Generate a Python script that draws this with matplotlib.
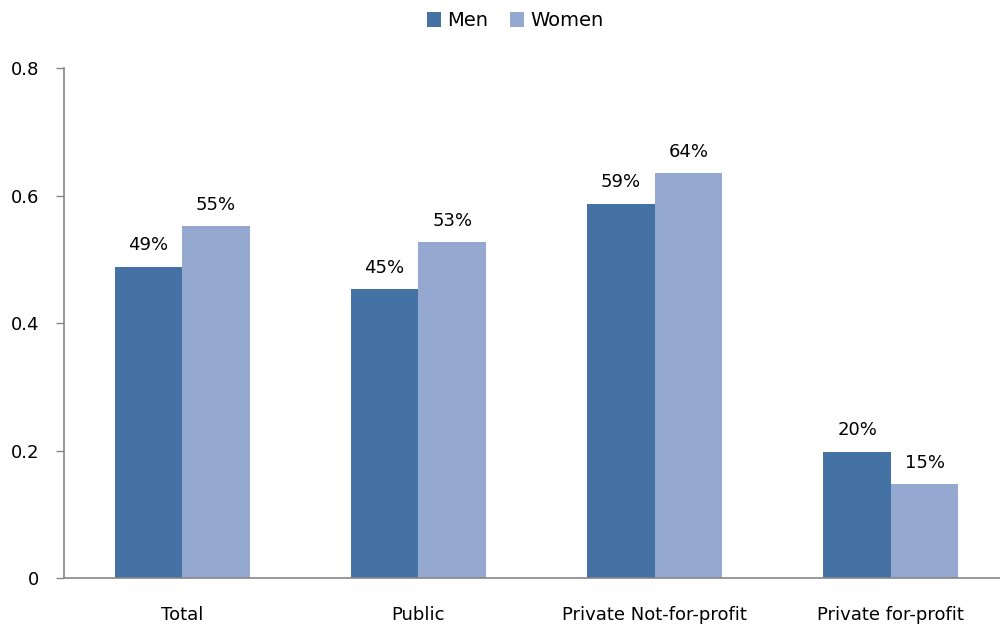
import numpy as np
import matplotlib.pyplot as plt

# share by sector
categories = ['Total', 'Public', 'Private Not-for-profit', 'Private for-profit']
men = [0.488, 0.453, 0.587, 0.198]
women = [0.552, 0.527, 0.635, 0.147]

plt.rcParams['font.family'] = 'DejaVu Sans'

fig = plt.figure(figsize=(10, 6.28), dpi=100)
ax = fig.add_axes([0.064, 0.0796, 0.945, 0.812])

x = np.arange(len(categories))
w = 0.286
b1 = ax.bar(x - w/2, men, w, color='#4472A5', label='Men')
b2 = ax.bar(x + w/2, women, w, color='#95A9D0', label='Women')

for bars in (b1, b2):
    for r in bars:
        v = r.get_height()
        ax.annotate('%d%%' % round(v*100), (r.get_x() + r.get_width()/2, v),
                    xytext=(0, 9), textcoords='offset points',
                    ha='center', va='bottom', fontsize=13)

ax.set_xlim(-0.5, 3.5)
ax.set_ylim(0, 0.8)
ax.set_yticks([0, 0.2, 0.4, 0.6, 0.8])
ax.set_yticklabels(['0', '0.2', '0.4', '0.6', '0.8'])
ax.set_xticks(x)
ax.set_xticklabels(categories)
ax.tick_params(axis='x', length=0, pad=20, labelsize=13)
ax.tick_params(axis='y', length=6, width=1, color='#868686', pad=12, labelsize=13)
for s in ['top', 'right']:
    ax.spines[s].set_visible(False)
for s in ['left', 'bottom']:
    ax.spines[s].set_color('#868686')
    ax.spines[s].set_linewidth(1.2)

fig.legend(loc='upper center', bbox_to_anchor=(0.515, 1.01), ncol=2, frameon=False,
           fontsize=14, handlelength=0.75, handleheight=0.75, columnspacing=1.1,
           handletextpad=0.3)

fig.savefig('out.png', dpi=100)
